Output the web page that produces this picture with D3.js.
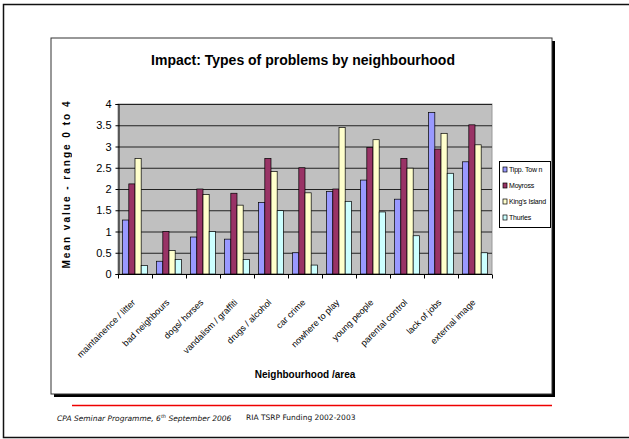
<!DOCTYPE html>
<html>
<head>
<meta charset="utf-8">
<script src="https://cdn.jsdelivr.net/npm/d3@7"></script>
<style>
  html, body { margin: 0; padding: 0; background: #fff; }
  svg { display: block; }
</style>
</head>
<body>
<svg id="chart" width="629" height="439"></svg>
<script>
// Problem categories along the x axis
const categories = [
  "maintainence / litter", "bad neighbours", "dogs/ horses", "vandalism / graffiti",
  "drugs / alcohol", "car crime", "nowhere to play", "young people",
  "parental control", "lack of jobs", "external image"
];

// Neighbourhoods (series)
const seriesNames = ["Tipp. Tow n", "Moyross", "King's Island", "Thurles"];
const seriesColors = ["#9999FF", "#993366", "#FFFFCC", "#CCFFFF"];

// Mean value (0-4) per category, one array per neighbourhood
const tippTown    = [1.27, 0.30, 0.87, 0.82, 1.68, 0.50, 1.94, 2.21, 1.76, 3.80, 2.64];
const moyross     = [2.12, 1.00, 2.00, 1.90, 2.72, 2.50, 2.00, 2.98, 2.72, 2.94, 3.51];
const kingsIsland = [2.72, 0.55, 1.87, 1.62, 2.41, 1.91, 3.45, 3.16, 2.49, 3.31, 3.04];
const thurles     = [0.20, 0.34, 1.00, 0.34, 1.49, 0.21, 1.71, 1.46, 0.90, 2.37, 0.50];

const yTicks = [0, 0.5, 1, 1.5, 2, 2.5, 3, 3.5, 4];

const seriesValues = [tippTown, moyross, kingsIsland, thurles];

const svg = d3.select("#chart");
const W = 629, H = 439;
const FONT = "Liberation Sans, Arial, sans-serif";

// Slide frame
svg.append("path")
  .attr("d", `M${W + 2},4.5 H3.5 V437.5 H${W + 2}`)
  .attr("fill", "none").attr("stroke", "#111").attr("stroke-width", 1.5);

// Chart box with drop shadow on right/bottom
const box = { x: 51, y: 38, w: 501, h: 356 };
svg.append("rect")
  .attr("x", box.x + 3).attr("y", box.y + 3)
  .attr("width", box.w).attr("height", box.h)
  .attr("fill", "#000");
svg.append("rect")
  .attr("x", box.x).attr("y", box.y)
  .attr("width", box.w).attr("height", box.h)
  .attr("fill", "#fff").attr("stroke", "#333").attr("stroke-width", 1);

// Title
svg.append("text")
  .attr("x", 303).attr("y", 65)
  .attr("text-anchor", "middle")
  .attr("font-family", FONT)
  .attr("font-weight", "bold").attr("font-size", 14)
  .attr("fill", "#000")
  .text("Impact: Types of problems by neighbourhood");

// Plot area
const plot = { left: 118, right: 492, top: 104, bottom: 274 };

// One slot per category; 4 bars take 4/5.5 of it (gap width 150%)
const slot = d3.scaleBand().domain(categories).range([plot.left, plot.right]);
const x1 = d3.scaleBand().domain(d3.range(seriesNames.length))
  .range([0, slot.bandwidth() * 4 / 5.5]);

const y = d3.scaleLinear().domain([0, 4]).range([plot.bottom, plot.top]);

const g = svg.append("g");

g.append("rect")
  .attr("x", plot.left).attr("y", plot.top)
  .attr("width", plot.right - plot.left).attr("height", plot.bottom - plot.top)
  .attr("fill", "#C0C0C0").attr("stroke", "#999").attr("stroke-width", 1);

// Gridlines
g.append("g").selectAll("line")
  .data(yTicks.filter(d => d > 0))
  .join("line")
  .attr("x1", plot.left).attr("x2", plot.right)
  .attr("y1", d => y(d) + 0.5).attr("y2", d => y(d) + 0.5)
  .attr("stroke", "#222").attr("stroke-width", 1);

// Bars
const groupOffset = slot.bandwidth() * 0.75 / 5.5;
categories.forEach((cat, i) => {
  seriesValues.forEach((vals, s) => {
    g.append("rect")
      .attr("x", slot(cat) + groupOffset + x1(s))
      .attr("y", y(vals[i]))
      .attr("width", x1.bandwidth())
      .attr("height", y(0) - y(vals[i]))
      .attr("fill", seriesColors[s])
      .attr("stroke", "#000").attr("stroke-width", 0.7);
  });
});

// Y axis
const yAxis = d3.axisLeft(y).tickValues(yTicks).tickSize(3).tickPadding(4)
  .tickFormat(d3.format("~g"));
const ya = svg.append("g").attr("transform", `translate(${plot.left + 0.5},0)`).call(yAxis);
ya.selectAll("text")
  .attr("font-family", FONT)
  .attr("font-size", 11).attr("fill", "#000");
ya.selectAll("path,line").attr("stroke", "#000");

// X axis with ticks at category boundaries
const xa = svg.append("g").attr("transform", `translate(0,${plot.bottom + 0.5})`);
xa.append("line").attr("x1", plot.left).attr("x2", plot.right)
  .attr("stroke", "#000");
xa.selectAll("line.tick")
  .data(categories.concat([null]))
  .join("line").attr("class", "tick")
  .attr("x1", (d, i) => plot.left + i * slot.step() + 0.5)
  .attr("x2", (d, i) => plot.left + i * slot.step() + 0.5)
  .attr("y1", 0).attr("y2", 4)
  .attr("stroke", "#000");

// Rotated category labels
svg.append("g").attr("opacity", 0.99).selectAll("text")
  .data(categories)
  .join("text")
  .attr("transform", d => `translate(${slot(d) + slot.bandwidth() / 2 + 1},${plot.bottom + 29}) rotate(-45)`)
  .attr("text-anchor", "end")
  .attr("font-family", FONT)
  .attr("font-size", 9).attr("fill", "#000")
  .text(d => d);

// Axis titles
svg.append("g").attr("opacity", 0.99).append("text")
  .attr("transform", `translate(70,184) rotate(-90)`)
  .attr("text-anchor", "middle")
  .attr("font-family", FONT)
  .attr("font-weight", "bold").attr("font-size", 10)
  .attr("letter-spacing", 2)
  .attr("fill", "#000")
  .text("Mean value - range 0 to 4");

svg.append("text")
  .attr("x", 305).attr("y", 378)
  .attr("text-anchor", "middle")
  .attr("font-family", FONT)
  .attr("font-weight", "bold").attr("font-size", 10)
  .attr("fill", "#000")
  .text("Neighbourhood /area");

// Legend
const lg = svg.append("g").attr("transform", "translate(499,161)");
lg.append("rect").attr("x", 0.5).attr("y", 0.5).attr("width", 51).attr("height", 66)
  .attr("fill", "#fff").attr("stroke", "#000");
seriesNames.forEach((name, i) => {
  const yy = 8 + i * 16;
  lg.append("rect").attr("x", 4).attr("y", yy - 2).attr("width", 4).attr("height", 5)
    .attr("fill", seriesColors[i]).attr("stroke", "#000").attr("stroke-width", 0.7);
  lg.append("text").attr("x", 10).attr("y", yy + 3)
    .attr("font-family", FONT)
    .attr("font-size", 7).attr("letter-spacing", -0.2).attr("fill", "#000")
    .text(name);
});

// Footer
svg.append("line").attr("x1", 72).attr("x2", 552).attr("y1", 405.5).attr("y2", 405.5)
  .attr("stroke", "#ee0000").attr("stroke-width", 1.5);
const foot = svg.append("text").attr("x", 57).attr("y", 421)
  .attr("font-family", "DejaVu Sans, sans-serif").attr("font-size", 7.5)
  .attr("fill", "#111");
foot.append("tspan").attr("font-style", "italic").text("CPA Seminar Programme, 6");
foot.append("tspan").attr("font-style", "italic").attr("font-size", 5).attr("dy", -3).text("th");
foot.append("tspan").attr("font-style", "italic").attr("dy", 3).text(" September 2006");
svg.append("text").attr("x", 246).attr("y", 420)
  .attr("font-family", "DejaVu Sans, sans-serif").attr("font-size", 7.5)
  .attr("fill", "#111")
  .text("RIA TSRP Funding 2002-2003");
</script>
</body>
</html>
